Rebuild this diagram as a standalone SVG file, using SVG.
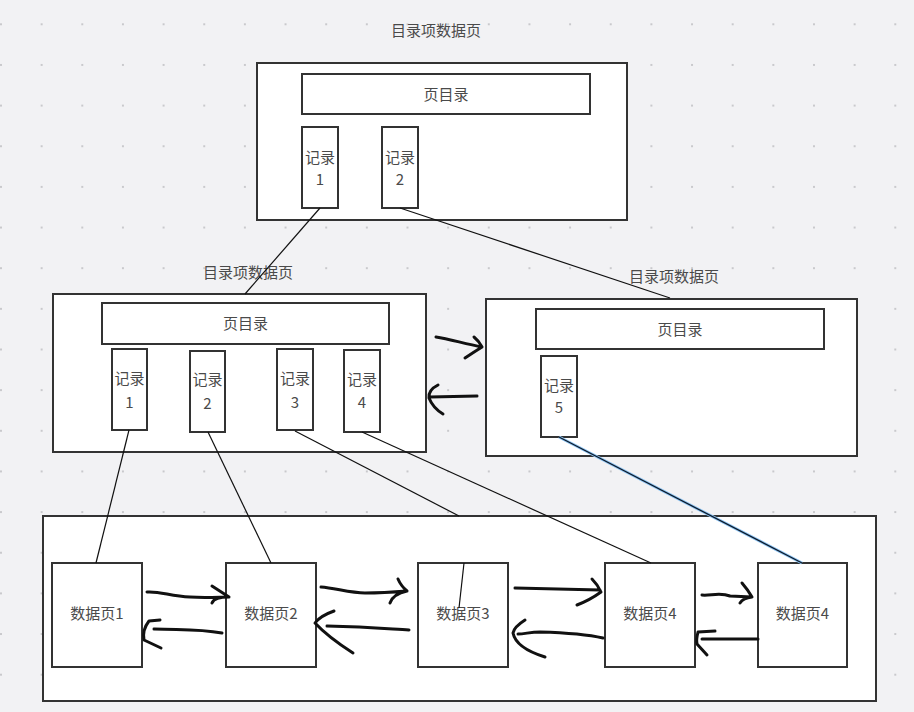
<svg xmlns="http://www.w3.org/2000/svg" width="914" height="712" viewBox="0 0 914 712">
<defs>
<pattern id="dots" patternUnits="userSpaceOnUse" x="0" y="23.3" width="40.65" height="40.65">
<rect x="0" y="0" width="2" height="2" fill="#c9c9cc"/>
</pattern>
<style>
.box{fill:#fff;stroke:#333;stroke-width:2}
.t{font-family:"Noto Sans CJK SC","Noto Sans",sans-serif;font-size:15px;fill:#4a4a4a;text-anchor:middle;dominant-baseline:central}
.ln{fill:none;stroke:#111;stroke-width:1.2}
.hand{fill:none;stroke:#111;stroke-width:3;stroke-linecap:round;stroke-linejoin:round}
</style>
</defs>
<rect width="914" height="712" fill="#f2f2f4"/>
<rect width="914" height="712" fill="url(#dots)"/>

<g id="root-page">
<text class="t" x="436" y="29">目录项数据页</text>
<rect class="box" x="257" y="63" width="370" height="157"/>
</g>
<g id="root-dir"><rect class="box" x="302" y="74" width="288" height="40"/><text class="t" x="446" y="93">页目录</text></g>
<g id="root-rec1"><rect class="box" x="302" y="127" width="36" height="81"/><text class="t" x="320" y="156">记录</text><text class="t" x="320" y="178">1</text></g>
<g id="root-rec2"><rect class="box" x="382" y="127" width="36" height="81"/><text class="t" x="400" y="156">记录</text><text class="t" x="400" y="178">2</text></g>

<g id="mid-left-page">
<text class="t" x="248" y="271">目录项数据页</text>
<rect class="box" x="53" y="294" width="373" height="158"/>
</g>
<g id="ml-dir"><rect class="box" x="102" y="303" width="287" height="41"/><text class="t" x="245.5" y="322.5">页目录</text></g>
<g id="ml-rec1"><rect class="box" x="112" y="349" width="35" height="81"/><text class="t" x="129.5" y="377">记录</text><text class="t" x="129.5" y="401">1</text></g>
<g id="ml-rec2"><rect class="box" x="190" y="351" width="35" height="81"/><text class="t" x="207.5" y="378">记录</text><text class="t" x="207.5" y="402">2</text></g>
<g id="ml-rec3"><rect class="box" x="277" y="349" width="36" height="81"/><text class="t" x="295" y="377">记录</text><text class="t" x="295" y="401">3</text></g>
<g id="ml-rec4"><rect class="box" x="344" y="350" width="36" height="82"/><text class="t" x="362" y="378">记录</text><text class="t" x="362" y="401">4</text></g>

<g id="mid-right-page">
<text class="t" x="674" y="275">目录项数据页</text>
<rect class="box" x="486" y="299" width="371" height="157"/>
</g>
<g id="mr-dir"><rect class="box" x="536" y="309" width="288" height="40"/><text class="t" x="680" y="328">页目录</text></g>
<g id="mr-rec5"><rect class="box" x="541" y="356" width="36" height="81"/><text class="t" x="559" y="384">记录</text><text class="t" x="559" y="406">5</text></g>

<g id="data-area"><rect class="box" x="43" y="516" width="833" height="185"/></g>
<g id="dp1"><rect class="box" x="52" y="563" width="90" height="104"/><text class="t" x="97" y="612">数据页1</text></g>
<g id="dp2"><rect class="box" x="226" y="563" width="90" height="104"/><text class="t" x="271" y="612">数据页2</text></g>
<g id="dp3"><rect class="box" x="418" y="563" width="90" height="104"/><text class="t" x="463" y="612">数据页3</text></g>
<g id="dp4"><rect class="box" x="605" y="563" width="90" height="104"/><text class="t" x="650" y="612">数据页4</text></g>
<g id="dp4b"><rect class="box" x="758" y="563" width="89" height="104"/><text class="t" x="802.5" y="612">数据页4</text></g>

<g id="connectors">
<path class="ln" d="M320,208 L245,294"/>
<path class="ln" d="M400,208 L670,298"/>
<path class="ln" d="M129,430 L96,563"/>
<path class="ln" d="M208,432 L271,563"/>
<path class="ln" d="M295,431 L459,516"/>
<path class="ln" d="M362,432 L651,563"/>
<path d="M559,437 L802,563" fill="none" stroke="#8cc4f4" stroke-width="3"/>
<path d="M559,437 L802,563" fill="none" stroke="#0d1a2a" stroke-width="1.3"/>
<path class="ln" d="M464,563 L459,608"/>

<path class="hand" d="M436,337 C450,339 465,344 482,347 M474,337 Q479,341 482,347 Q474,352 465,358"/>
<path class="hand" d="M477,396 L430,397 M438,385 Q428,390 429,398 Q433,408 443,414"/>

<path class="hand" d="M147,592 C160,591 170,596 190,597 C205,598 220,597 229,597 M212,586 L229,597 Q214,597 212,603"/>
<path class="hand" d="M222,633 C200,629 190,630 154,629 M160,620 L149,621 Q142,630 144,640 L161,648"/>
<path class="hand" d="M321,587 C335,588 350,593 365,593 C380,593 395,592 407,591 M398,579 Q401,586 407,591 Q393,594 390,603"/>
<path class="hand" d="M409,630 C390,629 370,627 327,626 M334,611 Q320,616 315,623 Q328,637 353,653"/>
<path class="hand" d="M515,588 L600,590 M592,579 Q598,585 601,592 Q590,600 577,605"/>
<path class="hand" d="M603,638 C590,635 575,633 540,632 C530,632 525,634 518,634 M525,620 Q514,627 513,633 Q516,648 545,657"/>
<path class="hand" d="M702,595 C710,596 720,592 730,596 L752,597 M742,583 Q748,590 752,597 Q743,598 740,603"/>
<path class="hand" d="M758,639 L702,639 M715,631 L698,632 Q696,640 697,644 L707,655"/>
</g>
</svg>
